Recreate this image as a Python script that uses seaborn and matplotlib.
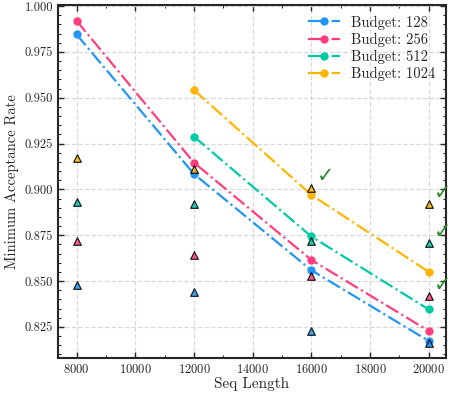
import pandas as pd
import matplotlib.pyplot as plt
import seaborn as sns
from matplotlib.ticker import MultipleLocator


# =========================================
# DATA
# =========================================

budgets = ["128", "256", "512", "1024"]
colors = ["#2196F3", "#FF3D7F", "#00C9A7", "#FFB400"]

seq_lengths = [8000, 12000, 16000, 20000]

# minimum acceptance rate (lines), None where there is no run
line_128 = [0.9845, 0.9084, 0.8559, 0.8173]
line_256 = [0.9920, 0.9146, 0.8615, 0.8228]
line_512 = [None, 0.9288, 0.8743, 0.8345]
line_1024 = [None, 0.9542, 0.8970, 0.8550]

# triangle markers
tri_128 = [0.848, 0.844, 0.823, 0.816]
tri_256 = [0.872, 0.864, 0.853, 0.842]
tri_512 = [0.893, 0.892, 0.872, 0.871]
tri_1024 = [0.917, 0.911, 0.901, 0.892]

# check marks
check_x = [16500, 20480, 20480, 20480]
check_y = [0.9075, 0.898, 0.877, 0.848]

lines = [line_128, line_256, line_512, line_1024]
tris = [tri_128, tri_256, tri_512, tri_1024]


# =========================================
# STYLE
# =========================================

sns.set_style("ticks")
plt.rcParams["font.family"] = ["cmr10", "DejaVu Serif"]
plt.rcParams["mathtext.fontset"] = "cm"
plt.rcParams["axes.formatter.use_mathtext"] = True
plt.rcParams["axes.unicode_minus"] = False


# =========================================
# PLOT
# =========================================

fig, ax = plt.subplots(figsize=(4.57, 3.93), dpi=100)
fig.subplots_adjust(left=0.127, right=0.976, top=0.987, bottom=0.089)

for b, c, vals in zip(budgets, colors, lines):
    df = pd.DataFrame({"seq": seq_lengths, "rate": vals}).dropna()
    sns.lineplot(
        data=df, x="seq", y="rate", ax=ax, color=c,
        marker="o", markersize=6, markeredgewidth=0,
        linestyle="-.", linewidth=1.6, label=f"Budget: {b}",
    )

for c, vals in zip(colors, tris):
    sns.scatterplot(
        x=seq_lengths, y=vals, ax=ax, color=c, marker="^",
        s=30, edgecolor="black", linewidth=0.9, alpha=0.85, zorder=4,
    )

for x, y in zip(check_x, check_y):
    ax.text(x, y, "\u2713", color="#2E8B2E", fontsize=15,
            family="DejaVu Sans", ha="center", va="center", zorder=5)

ax.set_xlim(7370, 20590)
ax.set_ylim(0.808, 1.0005)

ax.xaxis.set_major_locator(MultipleLocator(2000))
ax.xaxis.set_minor_locator(MultipleLocator(1000))
ax.yaxis.set_major_locator(MultipleLocator(0.025))
ax.yaxis.set_minor_locator(MultipleLocator(0.005))
ax.yaxis.set_major_formatter(plt.FormatStrFormatter("%.3f"))

ax.tick_params(which="both", direction="in", top=True, right=True, labelsize=9)
ax.tick_params(which="major", length=4, width=1)
ax.tick_params(which="minor", length=2, width=0.8)
for s in ax.spines.values():
    s.set_linewidth(1.5)

ax.grid(True, which="major", linestyle="--", color="#d9d9d9", linewidth=0.9)
ax.set_axisbelow(True)

ax.set_xlabel("Seq Length", fontsize=11, labelpad=1)
ax.set_ylabel("Minimum Acceptance Rate", fontsize=10.5, labelpad=4)

ax.legend(loc="upper right", frameon=False, fontsize=10.5, handlelength=2.2,
          labelspacing=0.2, borderaxespad=0.3)

plt.savefig("out.png", dpi=100)
